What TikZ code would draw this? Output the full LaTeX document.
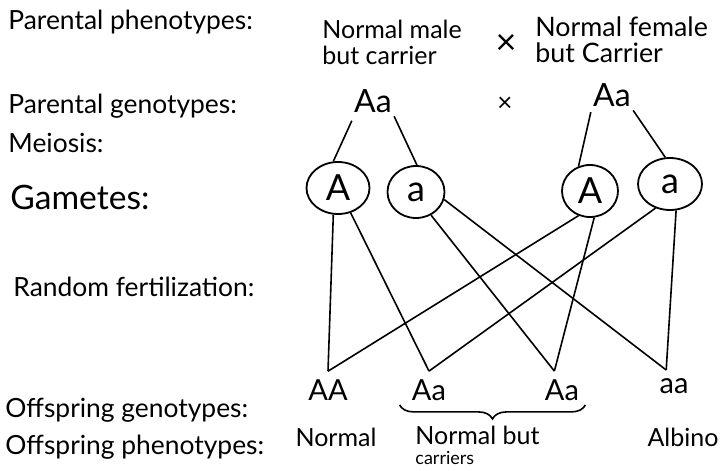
\documentclass[tikz,border=0pt]{standalone}
\usepackage{fontspec}
\setmainfont{Lato}
\usetikzlibrary{shapes.geometric,decorations.pathreplacing}

\begin{document}
\begin{tikzpicture}[x=0.5pt,y=-0.5pt,
  lbl/.style={anchor=west,inner sep=0pt,font=\fontsize{13.2}{15}\selectfont},
  parent/.style={anchor=west,align=left,inner sep=0pt,font=\fontsize{12.5}{13}\selectfont},
  geno/.style={inner sep=1pt,inner ysep=4pt,font=\fontsize{14.5}{16}\selectfont},
  gam/.style={draw,ellipse,line width=0.9pt,inner sep=0pt,font=\fontsize{18}{20}\selectfont},
  pheno/.style={align=left,inner sep=0pt,font=\fontsize{12.5}{13}\selectfont},
  link/.style={line width=0.8pt}]
  \useasboundingbox (0,0) rectangle (723,471);
  % row labels
  \node[lbl] (lpp) at (8,22) {Parental phenotypes:};
  \node[lbl] (lpg) at (8,106) {Parental genotypes:};
  \node[lbl] (lme) at (8,143) {Meiosis:};
  \node[lbl,font=\fontsize{16.8}{18}\selectfont] (lga) at (10,197) {Gametes:};
  \node[lbl] (lrf) at (13,287) {Random fertilization:};
  \node[lbl] (log) at (5,410) {Offspring genotypes:};
  \node[lbl] (lop) at (5,447) {Offspring phenotypes:};

  % parents
  \node[parent] (male) at (322,42) {Normal male\\but carrier};
  \node[font=\fontsize{18}{18}\selectfont] (x1) at (506,44) {×};
  \node[parent,font=\fontsize{13.4}{13}\selectfont] (female) at (535,40) {Normal female\\but Carrier};
  \node[geno,font=\fontsize{16}{18}\selectfont] (p1) at (373,101) {Aa};
  \node[font=\fontsize{13}{13}\selectfont] (x2) at (505,104) {×};
  \node[geno,font=\fontsize{16}{18}\selectfont] (p2) at (612,95) {Aa};

  % gametes
  \node[gam,minimum width=31.5pt,minimum height=26pt] (g1) at (338,188) {A};
  \node[gam,minimum width=28.5pt,minimum height=26pt] (g2) at (416,192) {a};
  \node[gam,minimum width=28pt,minimum height=26pt] (g3) at (590,191) {A};
  \node[gam,minimum width=32pt,minimum height=26pt] (g4) at (670,184) {a};

  % meiosis
  \draw[link] (p1.223) -- (g1.100);
  \draw[link] (p1.324) -- (g2.88);
  \draw[link] (p2.219) -- (g3.115);
  \draw[link] (p2.324) -- (g4.100);

  % offspring
  \node[geno] (f1) at (328,390) {AA};
  \node[geno] (f2) at (429,390) {Aa};
  \node[geno] (f3) at (562,390) {Aa};
  \node[geno] (f4) at (674,386) {aa};

  % fertilization
  \draw[link] (g1.260) -- (f1.north);
  \draw[link] (g1.297) -- (f2.north);
  \draw[link] (g2.303) -- (f3.112);
  \draw[link] (g2.345) -- (f4.116);
  \draw[link] (g3.245) -- (f1.north);
  \draw[link] (g3.279) -- (f3.112);
  \draw[link] (g4.239) -- (f2.north);
  \draw[link] (g4.283) -- (f4.116);

  \draw[link,decorate,decoration={brace,mirror,amplitude=7pt}]
    ([xshift=-5pt,yshift=2pt]f2.south west) -- ([xshift=2pt,yshift=2pt]f3.south east);

  % phenotypes
  \node[pheno] (n1) at (336,437) {Normal};
  \node[pheno,anchor=north west] (n2) at (415,426) {Normal but\\[-3pt]{\fontsize{9}{10}\selectfont carriers}};
  \node[pheno] (n3) at (683,437) {Albino};
\end{tikzpicture}
\end{document}
